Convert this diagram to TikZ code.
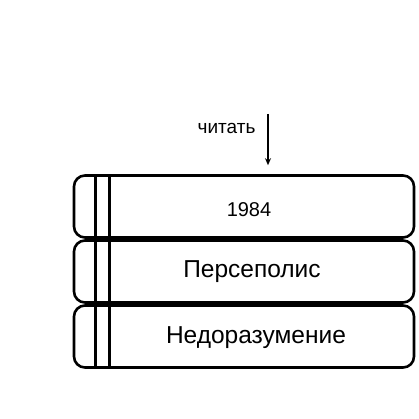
\documentclass[tikz,border=0pt]{standalone}
\usepackage{fontspec}
\setmainfont{Liberation Sans}
\usetikzlibrary{arrows.meta}
\begin{document}
\begin{tikzpicture}[x=1pt,y=-1pt,>={Stealth[length=7pt,width=6pt]}]
  \tikzstyle{book}=[rectangle,rounded corners=11pt,line width=2.6pt,draw=black,
  		    minimum width=340pt,minimum height=62pt,inner sep=0pt]
  \tikzstyle{spine}=[line width=2.6pt]
  \tikzstyle{title}=[font=\fontsize{24.5}{26}\selectfont]
  \useasboundingbox (0,0) rectangle (419,419);
  \node [book] (b1) at (244,206.5) {};
  \node [book] (b2) at (244,271.5) {};
  \node [book] (b3) at (244,336.5) {};
  \node [font=\fontsize{20}{22}\selectfont] (t1) at (249,210) {1984};
  \node [title] (t2) at (252,271.5) {Персеполис};
  \node [title] (t3) at (256,338) {Недоразумение};
  \foreach \b in {b1,b2,b3} {
    \draw [spine] ([xshift=23pt]\b.north west) -- ([xshift=23pt]\b.south west);
    \draw [spine] ([xshift=37pt]\b.north west) -- ([xshift=37pt]\b.south west);
  }
  \coordinate (top) at (268,114);
  \draw [->,line width=1.3pt,shorten >=9pt] (top) -- (top |- b1.north);
  \node [font=\fontsize{19}{21}\selectfont,anchor=east] (lbl) at (259,128) {читать};
\end{tikzpicture}
\end{document}
